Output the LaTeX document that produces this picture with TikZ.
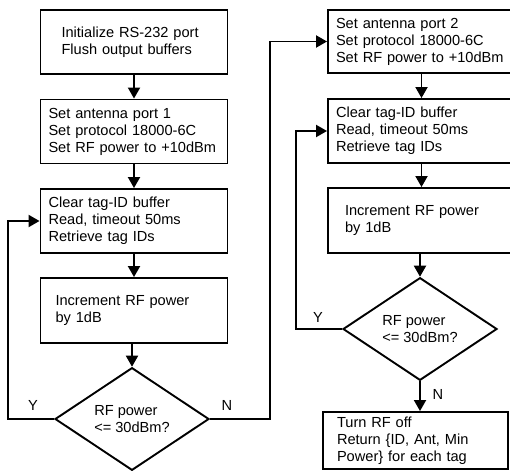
\documentclass[tikz,border=0pt]{standalone}
\usepackage{fontspec}
\setmainfont{Liberation Sans}
\usetikzlibrary{shapes.geometric,arrows.meta}

\tikzset{
  proc/.style={draw, line width=1.9pt, align=left, minimum height=64pt,
    inner xsep=8pt, text width=171pt},
  test/.style={draw, diamond, line width=1.9pt, align=left,
    minimum width=154pt, minimum height=102pt, inner sep=0pt},
  flow/.style={line width=1.9pt, -{Triangle[length=11pt,width=12pt]}},
}

\begin{document}
\begin{tikzpicture}[x=1pt, y=-1pt, font=\fontsize{14.6}{17}\selectfont]
\useasboundingbox (0,0) rectangle (510,470);

% left column, antenna 1
\node [proc, inner xsep=21pt, text width=145pt] (init) at (134,42) {Initialize RS-232 port\\Flush output buffers};
\node [proc] (ant1) at (134,131.5) {Set antenna port 1\\Set protocol 18000-6C\\Set RF power to +10dBm};
\node [proc] (read1) at (134,221) {Clear tag-ID buffer\\Read, timeout 50ms\\Retrieve tag IDs};
\node [proc, inner xsep=15pt, text width=157pt, minimum height=65pt] (inc1) at (134,310.5) {Increment RF power\\by 1dB\\[6pt]};
\node [test] (chk1) at (132,419) {RF power\\<= 30dBm?};

% right column, antenna 2
\node [proc, minimum height=63pt] (ant2) at (421.5,41.5) {Set antenna port 2\\Set protocol 18000-6C\\Set RF power to +10dBm};
\node [proc] (read2) at (421.5,131) {Clear tag-ID buffer\\Read, timeout 50ms\\Retrieve tag IDs};
\node [proc, inner xsep=17pt, text width=153pt, minimum height=65pt] (inc2) at (421.5,220.5) {Increment RF power\\by 1dB\\[4pt]};
\node [test] (chk2) at (420,329) {RF power\\<= 30dBm?};
\node [proc, inner xsep=14pt, text width=157pt, minimum height=57pt] (done) at (415.5,440.5) {Turn RF off\\Return \{ID, Ant, Min\\Power\} for each tag};

\draw [flow] (init) -- (ant1);
\draw [flow] (ant1) -- (read1);
\draw [flow] (read1) -- (inc1);
\draw [flow] (inc1.south -| chk1) -- (chk1.north);
\draw [flow] (chk1.west) -- ++(-46,0) |- (read1.west);
\draw [flow] (chk1.east) -- ++(60,0) |- (ant2.west);

\draw [flow] (ant2) -- (read2);
\draw [flow] (read2) -- (inc2);
\draw [flow] (inc2.south -| chk2) -- (chk2.north);
\draw [flow] (chk2.west) -- ++(-46,0) |- (read2.west);
\draw [flow] (chk2.south) -- (chk2.south |- done.north);

\node (y1) at (33,405) {Y};
\node (n1) at (227,405) {N};
\node (y2) at (318,317) {Y};
\node (n2) at (438,394) {N};
\end{tikzpicture}
\end{document}
